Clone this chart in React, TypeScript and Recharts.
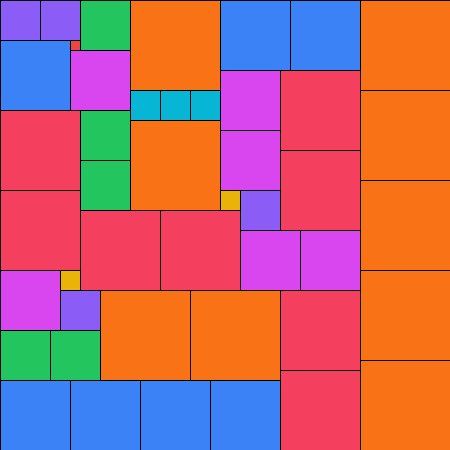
import React from 'react';
import { ScatterChart, Scatter, XAxis, YAxis, ZAxis } from 'recharts';

// grid is 45 x 45 units: one square of side 1, two of side 2 ... nine of side 9
const gridSize = 45;

// fill colour for each side length (index = side)
const sideColors = ['', '#ef4444', '#eab308', '#06b6d4', '#8b5cf6', '#22c55e', '#d946ef', '#3b82f6', '#f43f5e', '#f97316'];

// [x, y] of the top-left corner, in grid units, grouped by side length
const side9 = [[13, 0], [36, 0], [36, 9], [13, 12], [36, 18], [10, 29], [19, 29], [36, 27], [36, 36]];
const side8 = [[28, 7], [0, 11], [28, 15], [0, 19], [8, 21], [16, 21], [28, 29], [28, 37]];
const side7 = [[22, 0], [29, 0], [0, 4], [0, 38], [7, 38], [14, 38], [21, 38]];
const side6 = [[7, 5], [22, 7], [22, 13], [24, 23], [30, 23], [0, 27]];
const side5 = [[8, 0], [8, 11], [8, 16], [0, 33], [5, 33]];
const side4 = [[0, 0], [4, 0], [24, 19], [6, 29]];
const side3 = [[13, 9], [16, 9], [19, 9]];
const side2 = [[22, 19], [6, 27]];
const side1 = [[7, 4]];

const groups: [number, number[][]][] = [
  [9, side9], [8, side8], [7, side7], [6, side6], [5, side5],
  [4, side4], [3, side3], [2, side2], [1, side1],
];

const data = groups.flatMap(([s, list]) => list.map(([x, y]) => ({ x, y, s })));

const SquareShape = (props: any) => {
  const { cx, cy, size, payload } = props;
  if (cx == null || cy == null) return null;
  const w = size ?? 0;
  return (
    <rect
      x={cx - w / 2}
      y={cy - w / 2}
      width={w}
      height={w}
      fill={sideColors[payload.s]}
      stroke="#000"
      strokeWidth={1}
      shapeRendering="crispEdges"
    />
  );
};

export default function App() {
  return (
    <div style={{ position: 'absolute', left: 0, top: 0, width: 450, height: 450, overflow: 'hidden', background: '#fff' }}>
      <ScatterChart width={450} height={450} margin={{ top: 0, right: 0, bottom: 0, left: 0 }}>
        <XAxis type="number" dataKey={(d: any) => d.x + d.s / 2} domain={[0, gridSize]} hide />
        <YAxis type="number" dataKey={(d: any) => d.y + d.s / 2} domain={[0, gridSize]} reversed hide />
        <ZAxis type="number" dataKey="s" domain={[0, gridSize]} range={[0, 450]} />
        <Scatter data={data} shape={<SquareShape />} isAnimationActive={false} />
      </ScatterChart>
    </div>
  );
}
